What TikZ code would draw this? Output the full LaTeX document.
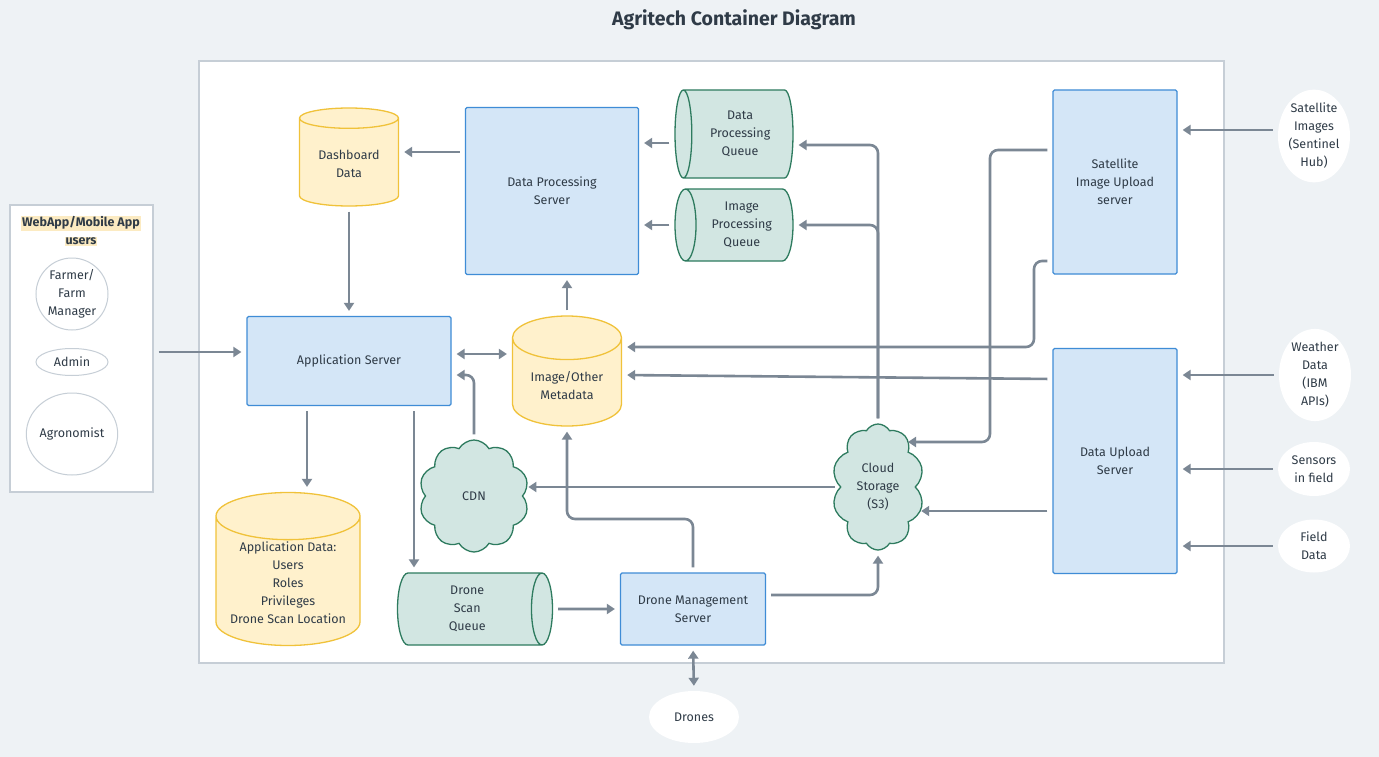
\documentclass[tikz,border=0pt]{standalone}
\usepackage{fontspec}
\setmainfont{Fira Sans}
\usetikzlibrary{arrows.meta,shapes.geometric,shapes.symbols,positioning}
\definecolor{bgfill}{HTML}{EEF2F5}
\definecolor{frameline}{HTML}{C6CED6}
\definecolor{srvfill}{HTML}{D4E6F7}
\definecolor{srvline}{HTML}{3F8CD6}
\definecolor{dbfill}{HTML}{FFF1CC}
\definecolor{dbline}{HTML}{F0C23A}
\definecolor{qfill}{HTML}{D2E6E2}
\definecolor{qline}{HTML}{2E7B5F}
\definecolor{flowcol}{HTML}{7B8794}
\definecolor{inktxt}{HTML}{2F3B47}
\definecolor{hlfill}{HTML}{FCEBC2}
\newcommand{\hlbox}[1]{{\setlength{\fboxsep}{1pt}\colorbox{hlfill}{#1}}}

\begin{document}
\begin{tikzpicture}[x=1pt,y=-1pt,font=\fontsize{12.5}{18}\selectfont,text=inktxt,
	server/.style={draw=srvline,fill=srvfill,line width=1.3pt,rounded corners=1.5pt,align=center},
	store/.style={cylinder,shape border rotate=90,anchor=shape center,draw=dbline,fill=dbfill,line width=1.3pt,align=center},
	queue/.style={cylinder,anchor=shape center,aspect=0.4,draw=qline,fill=qfill,line width=1.3pt,align=center},
	cloudy/.style={cloud,cloud puffs=10,cloud puff arc=120,cloud ignores aspect,draw=qline,fill=qfill,line width=1.3pt,align=center,inner sep=0pt},
	source/.style={ellipse,fill=white,align=center,inner sep=0pt},
	actor/.style={ellipse,draw=frameline,fill=white,line width=1pt,align=center,inner sep=0pt},
	flow/.style={draw=flowcol,line width=2.6pt,-{Triangle[length=8pt,width=10pt]},rounded corners=8pt,shorten <=5pt,shorten >=5pt},
	both/.style={flow,{Triangle[length=8pt,width=10pt]}-{Triangle[length=8pt,width=10pt]}}]
	\useasboundingbox (0,0) rectangle (1379,757);
	\fill[bgfill] (0,0) rectangle (1379,757);
	\node[font=\bfseries\fontsize{19.5}{22}\selectfont] (title) at (734,20) {Agritech Container Diagram};
	\draw[frameline,fill=white,line width=1.2pt] (199,61) rectangle (1224,663);

	\node[draw=frameline,fill=white,line width=1.2pt,minimum width=143pt,minimum height=287pt] (users) at (81.5,348.5) {};
	\node[font=\bfseries\fontsize{12.5}{18}\selectfont,align=center] (usertitle) at (81,231) {\hlbox{WebApp/Mobile App}\\\hlbox{users}};
	\node[actor,minimum width=72pt,minimum height=72pt] (farmer) at (72,294) {Farmer/\\Farm\\Manager};
	\node[actor,minimum width=72pt,minimum height=27pt] (admin) at (72,362) {Admin};
	\node[actor,minimum width=90pt,minimum height=82pt] (agro) at (72,434) {Agronomist};

	\node[server,minimum width=204pt,minimum height=89pt] (appsrv) at (349,361) {Application Server};
	\node[store,aspect=0.3,minimum width=99pt,minimum height=98pt] (dash) at (349,157) {Dashboard\\Data};
	\node[server,minimum width=173pt,minimum height=167pt] (dps) at (552,191) {Data Processing\\Server};
	\node[queue,aspect=0.32,shape border rotate=180,minimum width=88pt,minimum height=118pt] (dpq) at (734,134) {Data\\Processing\\Queue};
	\node[queue,shape border rotate=180,minimum width=72pt,minimum height=118pt] (ipq) at (734,225) {Image\\Processing\\Queue};
	\node[server,minimum width=124pt,minimum height=184pt] (sat) at (1115,182) {Satellite\\Image Upload\\server};
	\node[server,minimum width=124pt,minimum height=225pt] (dup) at (1115,461) {Data Upload\\Server};
	\node[store,aspect=0.55,minimum width=109pt,minimum height=110pt] (meta) at (567,371) {Image/Other\\Metadata};
	\node[cloudy,minimum width=110pt,minimum height=112pt] (cdn) at (474,496) {CDN};
	\node[cloudy,minimum width=92pt,minimum height=126pt] (s3) at (878,487) {Cloud\\Storage\\(S3)};
	\node[store,aspect=0.4,inner sep=1pt,minimum width=144pt,minimum height=153pt] (appdata) at (288,569) {Application Data:\\Users\\Roles\\Privileges\\Drone Scan Location};
	\node[queue,minimum width=72pt,minimum height=155pt] (dsq) at (475,609) {Drone\\Scan\\Queue};
	\node[server,minimum width=145pt,minimum height=72pt] (dms) at (693,609) {Drone Management\\Server};
	\node[source,minimum width=90pt,minimum height=52pt] (drones) at (694,717) {Drones};
	\node[source,minimum width=72pt,minimum height=88pt] (satimg) at (1314,136) {Satellite\\Images\\(Sentinel\\Hub)};
	\node[source,minimum width=72pt,minimum height=90pt] (weather) at (1315,375) {Weather\\Data\\(IBM\\APIs)};
	\node[source,minimum width=72pt,minimum height=54pt] (sensors) at (1314,469) {Sensors\\in field};
	\node[source,minimum width=72pt,minimum height=53pt] (field) at (1314,546) {Field\\Data};
	\coordinate (s3in) at (903,442);

	\draw[flow] (users.east |- 0,352) -- (appsrv.west |- 0,352);
	\draw[flow] (dps.west |- 0,152) -- (dash.east |- 0,152);
	\draw[flow] (dash.south) -- (appsrv.north);
	\draw[flow] (dpq.west |- 0,143) -- (dps.east |- 0,143);
	\draw[flow] (ipq.west) -- (ipq.west -| dps.east);
	\draw[flow] (meta.north) -- (meta.north |- dps.south);
	\draw[both] (appsrv.east |- 0,354) -- (meta.west |- 0,354);
	\draw[flow] (cdn.north) |- (appsrv.east |- 0,375);
	\draw[flow] (appsrv.south -| 307,0) -- (appdata.north -| 307,0);
	\draw[flow] (appsrv.south -| 414,0) -- (dsq.north -| 414,0);
	\draw[flow] (dsq.east) -- (dms.west);
	\draw[flow] (dms.north) -- (dms.north |- 0,519) -| (meta.south);
	\draw[flow] (dms.east |- 0,595) -| (s3.south);
	\draw[both] (dms.south) -- (drones.north);
	\draw[flow] (s3.west) -- (s3.west -| cdn.east);
	\draw[flow] (s3.north) |- (dpq.east |- 0,145);
	\draw[flow] (s3.north) |- (ipq.east);
	\draw[flow] (sat.west |- 0,150) -| (990,442) -- (s3in);
	\draw[flow] (sat.west |- 0,261) -- (1034,261) |- (meta.east |- 0,347);
	\draw[flow] (dup.west |- 0,379) -- (meta.east |- 0,375);
	\draw[flow] (dup.west |- 0,511) -- (s3.east |- 0,511);
	\draw[flow] (satimg.west |- 0,130) -- (sat.east |- 0,130);
	\draw[flow] (weather.west) -- (weather.west -| dup.east);
	\draw[flow] (sensors.west) -- (sensors.west -| dup.east);
	\draw[flow] (field.west) -- (field.west -| dup.east);
\end{tikzpicture}
\end{document}
